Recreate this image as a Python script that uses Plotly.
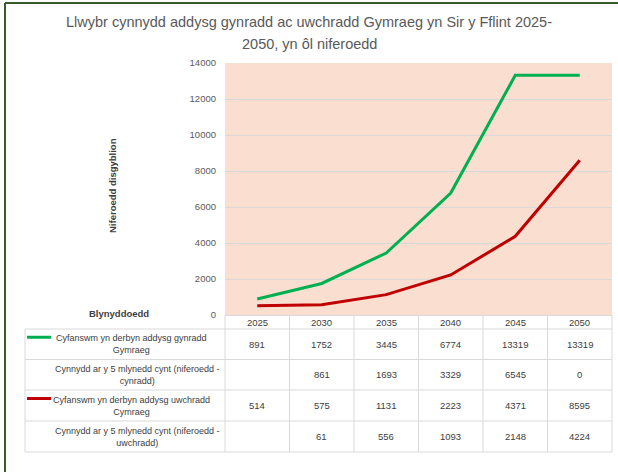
import plotly.graph_objects as go

# ---- data ----
years = ["2025", "2030", "2035", "2040", "2045", "2050"]
primary_total = [891, 1752, 3445, 6774, 13319, 13319]
primary_increase = [None, 861, 1693, 3329, 6545, 0]
secondary_total = [514, 575, 1131, 2223, 4371, 8595]
secondary_increase = [None, 61, 556, 1093, 2148, 4224]

row_labels = [
    "Cyfanswm yn derbyn addysg gynradd<br>Gymraeg",
    "Cynnydd ar y 5 mlynedd cynt (niferoedd -<br>cynradd)",
    "Cyfanswm yn derbyn addysg uwchradd<br>Cymraeg",
    "Cynnydd ar y 5 mlynedd cynt (niferoedd -<br>uwchradd)",
]
row_values = [primary_total, primary_increase, secondary_total, secondary_increase]
row_colors = ["#00B050", None, "#C00000", None]

title_lines = ["Llwybr cynnydd addysg gynradd ac uwchradd Gymraeg yn Sir y Fflint 2025-",
               "2050, yn ôl niferoedd"]
y_title = "Niferoedd disgyblion"
x_title = "Blynyddoedd"

# ---- layout geometry (pixels) ----
W, H = 618, 472
PL, PR, PT, PB = 225, 612, 63, 315
FONT = "Liberation Sans, Arial, sans-serif"
TXT = "#404040"
GRID = "#D9D9D9"


def X(px):
    return (px - PL) / (PR - PL)


def Y(py):
    return (PB - py) / (PB - PT)


fig = go.Figure()
fig.add_trace(go.Scatter(x=years, y=primary_total, mode="lines",
                         line=dict(color="#00B050", width=3), name=row_labels[0]))
fig.add_trace(go.Scatter(x=years, y=secondary_total, mode="lines",
                         line=dict(color="#C00000", width=3), name=row_labels[2]))

shapes = []
ann = []

# outer frame (dark green, left and top)
shapes.append(dict(type="line", xref="paper", yref="paper", x0=X(5), x1=X(5), y0=Y(3), y1=Y(H + 5),
                   line=dict(color="#3A5A2A", width=2)))
shapes.append(dict(type="line", xref="paper", yref="paper", x0=X(5), x1=X(W + 5), y0=Y(3), y1=Y(3),
                   line=dict(color="#3A5A2A", width=2)))

# table grid
row_tops = [329, 359.5, 390, 421, 452]
col_bounds = [PL + k * (PR - PL) / 6 for k in range(7)]
for yy in row_tops:
    shapes.append(dict(type="line", xref="paper", yref="paper", x0=X(25), x1=X(PR), y0=Y(yy), y1=Y(yy),
                       line=dict(color=GRID, width=1)))
shapes.append(dict(type="line", xref="paper", yref="paper", x0=X(25), x1=X(25), y0=Y(329), y1=Y(452),
                   line=dict(color=GRID, width=1)))
for cx in col_bounds:
    shapes.append(dict(type="line", xref="paper", yref="paper", x0=X(cx), x1=X(cx), y0=Y(PB), y1=Y(452),
                       line=dict(color=GRID, width=1)))

# header years (category index positions on the x axis)
for i, yr in enumerate(years):
    ann.append(dict(xref="x", yref="paper", x=i, y=Y(322), text=yr, showarrow=False,
                    font=dict(family=FONT, size=9.5, color=TXT), xanchor="center", yanchor="middle"))

# rows
for r, (lab, vals, col) in enumerate(zip(row_labels, row_values, row_colors)):
    cy = (row_tops[r] + row_tops[r + 1]) / 2
    cx = 131 if col else 137
    ann.append(dict(xref="paper", yref="paper", x=X(cx), y=Y(cy), text=lab, showarrow=False,
                    align="center", font=dict(family=FONT, size=9, color=TXT),
                    xanchor="center", yanchor="middle"))
    if col:
        shapes.append(dict(type="line", xref="paper", yref="paper", x0=X(27), x1=X(51),
                           y0=Y(cy - 7), y1=Y(cy - 7), line=dict(color=col, width=3)))
    for i, v in enumerate(vals):
        if v is None:
            continue
        ann.append(dict(xref="x", yref="paper", x=i, y=Y(cy), text=str(v), showarrow=False,
                        font=dict(family=FONT, size=9.5, color=TXT), xanchor="center", yanchor="middle"))

# titles
for k, (line, yy) in enumerate(zip(title_lines, [22, 44])):
    ann.append(dict(xref="paper", yref="paper", x=X(309), y=Y(yy), text=line, showarrow=False,
                    font=dict(family=FONT, size=14.5, color="#595959"),
                    xanchor="center", yanchor="middle"))
ann.append(dict(xref="paper", yref="paper", x=X(112), y=Y(186), text="<b>" + y_title + "</b>",
                textangle=-90, showarrow=False, font=dict(family=FONT, size=9.5, color=TXT),
                xanchor="center", yanchor="middle"))
ann.append(dict(xref="paper", yref="paper", x=X(119), y=Y(313), text="<b>" + x_title + "</b>",
                showarrow=False, font=dict(family=FONT, size=9.5, color=TXT),
                xanchor="center", yanchor="middle"))

fig.update_layout(
    width=W, height=H,
    margin=dict(l=PL, r=W - PR, t=PT, b=H - PB, autoexpand=False),
    paper_bgcolor="white",
    plot_bgcolor="#FADFD1",
    showlegend=False,
    shapes=shapes,
    annotations=ann,
    xaxis=dict(type="category", range=[-0.5, 5.5], showticklabels=False, showgrid=False,
               zeroline=False, showline=True, linecolor=GRID, ticks="", fixedrange=True),
    yaxis=dict(range=[0, 14000], dtick=2000, tickformat="d", showgrid=True, gridcolor=GRID,
               gridwidth=1, zeroline=False, showline=False, ticks="", ticklabelstandoff=8,
               tickfont=dict(family=FONT, size=9.5, color="#595959")),
)

fig.write_html("out.html", config={"displayModeBar": False},
               post_script="document.body.style.margin='0';")
